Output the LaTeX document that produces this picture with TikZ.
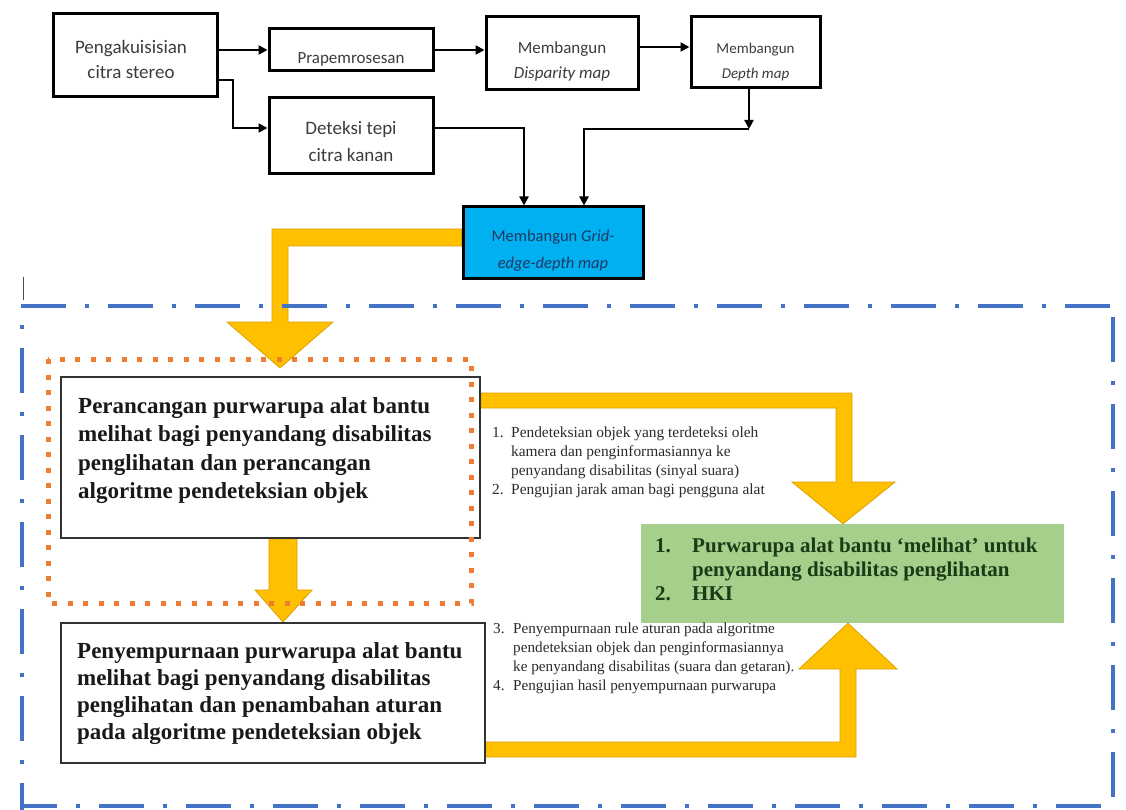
\documentclass[tikz,border=0pt]{standalone}
\usepackage{fontspec}
\setmainfont{Liberation Serif}
\newfontfamily\calfont{Carlito}
\usetikzlibrary{arrows.meta,backgrounds,calc}
\definecolor{yel}{HTML}{FFC000}
\definecolor{yeledge}{HTML}{DDA000}
\definecolor{bdash}{HTML}{4472C4}
\definecolor{orng}{HTML}{ED7D31}
\definecolor{cyanf}{HTML}{00B0F0}
\definecolor{grn}{HTML}{A6CF8B}
\definecolor{grntxt}{HTML}{1B3A16}
\definecolor{tgray}{HTML}{3C3C3C}
\definecolor{navy}{HTML}{1F3864}
\definecolor{ltxt}{HTML}{2A2A2A}
\begin{document}
\begin{tikzpicture}[x=1pt,y=-1pt,
  tbox/.style={draw=black, line width=3pt, inner sep=0pt, align=center, text=tgray},
  conn/.style={line width=2.8pt, -{Triangle[length=9pt,width=9pt]}},
  bigbox/.style={draw=black!80, line width=1.8pt, inner sep=0pt, fill=white},
  yarr/.style={fill=yel, draw=yeledge, line width=0.8pt, line join=miter},
  bline/.style={draw=bdash, line width=4pt, dash pattern=on 45pt off 19pt on 4pt off 19pt},
  odot/.style={draw=orng, line width=5pt, dash pattern=on 5pt off 10.5pt},
  ]
\useasboundingbox (0,0) rectangle (1126,810);

% top flow boxes
\node[tbox, minimum width=164pt, minimum height=83pt, font=\calfont\fontsize{19}{25}\selectfont] (a) at (135,55.5) {\rule{0pt}{21pt}Pengakuisisian\hspace*{8pt}\\citra stereo\hspace*{8pt}};
\node[tbox, minimum width=164pt, minimum height=42pt, font=\calfont\fontsize{17}{20}\selectfont] (b) at (351,50) {\rule{0pt}{30pt}Prapemrosesan};
\node[tbox, minimum width=164pt, minimum height=76pt, font=\calfont\fontsize{19}{27}\selectfont] (c) at (351,136) {\rule{0pt}{24pt}Deteksi tepi\\citra kanan};
\node[tbox, minimum width=152pt, minimum height=73pt, font=\calfont\fontsize{17}{25}\selectfont] (d) at (562,53.5) {\rule{0pt}{28pt}Membangun\\\textit{Disparity map}};
\node[tbox, minimum width=129pt, minimum height=71pt, font=\calfont\fontsize{15}{25}\selectfont] (e) at (755.5,52.5) {\rule{0pt}{28.5pt}Membangun\\\textit{Depth map}};
\node[tbox, fill=cyanf, text=navy, minimum width=180pt, minimum height=71pt, font=\calfont\fontsize{16.5}{27}\selectfont] (f) at (553,242.5) {\rule{0pt}{27.5pt}Membangun \textit{Grid-}\\\textit{edge-depth map}};

% lower boxes
\node[bigbox, minimum width=419pt, minimum height=161pt] (g) at (270.5,457.5) {};
\node[anchor=north west, inner sep=0pt, font=\bfseries\fontsize{23}{28.5}\selectfont, text=black!90] (gt) at (78,393)
  {\begin{tabular}[t]{@{}l@{}}Perancangan purwarupa alat bantu\\melihat bagi penyandang disabilitas\\penglihatan dan perancangan\\algoritme pendeteksian objek\end{tabular}};
\node[bigbox, minimum width=424pt, minimum height=140pt] (h) at (273,693) {};
\node[anchor=north west, inner sep=0pt, font=\bfseries\fontsize{23}{27}\selectfont, text=black!90] (ht) at (77,639)
  {\begin{tabular}[t]{@{}l@{}}Penyempurnaan purwarupa alat bantu\\melihat bagi penyandang disabilitas\\penglihatan dan penambahan aturan\\pada algoritme pendeteksian objek\end{tabular}};
\node[fill=grn, inner sep=0pt, minimum width=423pt, minimum height=99pt] (k) at (852.5,573.5) {};
\node[anchor=north west, inner sep=0pt, font=\bfseries\fontsize{21}{24}\selectfont, text=grntxt] (kt) at (655,535)
  {\begin{tabular}[t]{@{}p{37pt}@{}l@{}}1. & Purwarupa alat bantu ‘melihat’ untuk\\ & penyandang disabilitas penglihatan\\2. & HKI\end{tabular}};

% lists
\node[anchor=north west, inner sep=0pt, font=\fontsize{15.4}{19}\selectfont, text=ltxt] (l1) at (492,424)
  {\begin{tabular}[t]{@{}p{19pt}@{}l@{}}1. & Pendeteksian objek yang terdeteksi oleh\\ & kamera dan penginformasiannya ke\\ & penyandang disabilitas (sinyal suara)\\2. & Pengujian jarak aman bagi pengguna alat\end{tabular}};
\node[anchor=north west, inner sep=0pt, font=\fontsize{15.2}{19}\selectfont, text=ltxt] (l2) at (493,620)
  {\begin{tabular}[t]{@{}p{20pt}@{}l@{}}3. & Penyempurnaan rule aturan pada algoritme\\ & pendeteksian objek dan penginformasiannya\\ & ke penyandang disabilitas (suara dan getaran).\\4. & Pengujian hasil penyempurnaan purwarupa\end{tabular}};

% black connectors
\draw[conn] (a.east |- b.west) -- (b.west);
\draw[conn] (a.east |- 0,80) -- (233,80) |- (c.west |- 0,128);
\draw[conn] (b.east) -- (d.west |- b.east);
\draw[conn] (d.east |- 0,47) -- (e.west |- 0,47);
\draw[conn] (c.east |- 0,128) -| (f.north -| 524,0);
\coordinate (j) at (749,129);
\draw[conn] (e.south -| j) -- (j);
\draw[conn] (j) -| (f.north -| 584,0);

% yellow block arrows
\begin{pgfonlayer}{background}
\draw[yarr] (f.west |- 0,229) -- (272,229) -- (272,322) -- (227,322) -- (280,368) -- (333,322) -- (288,322) -- (288,246) -- (f.west |- 0,246) -- cycle;
\draw[yarr] (g.south -| 269,0) -- (269,590) -- (255,590) -- (h.north -| 283,0) -- (312,590) -- (297,590) -- (g.south -| 297,0) -- cycle;
\draw[yarr] (g.east |- 0,393) -- (852,393) -- (852,482) -- (895,482) -- (k.north -| 843,0) -- (792,482) -- (836,482) -- (836,408) -- (g.east |- 0,408) -- cycle;
\draw[yarr] (h.east |- 0,742) -- (840,742) -- (840,669) -- (799,669) -- (k.south -| 848,0) -- (897,669) -- (856,669) -- (856,757) -- (h.east |- 0,757) -- cycle;
\end{pgfonlayer}

% dash-dot frame
\draw[bline] (21,306) -- (1113,306);
\draw[bline, dash phase=45pt] (22,306) -- (22,810);
\draw[bline, dash phase=76pt] (1113,306) -- (1113,810);
\draw[bline, dash phase=10pt] (22,806) -- (1113,806);
\draw[line width=0.8pt, black!70] (23,277) -- (23,300);

% orange dotted frame
\draw[odot] (48,359) rectangle (471,603);
\end{tikzpicture}
\end{document}
